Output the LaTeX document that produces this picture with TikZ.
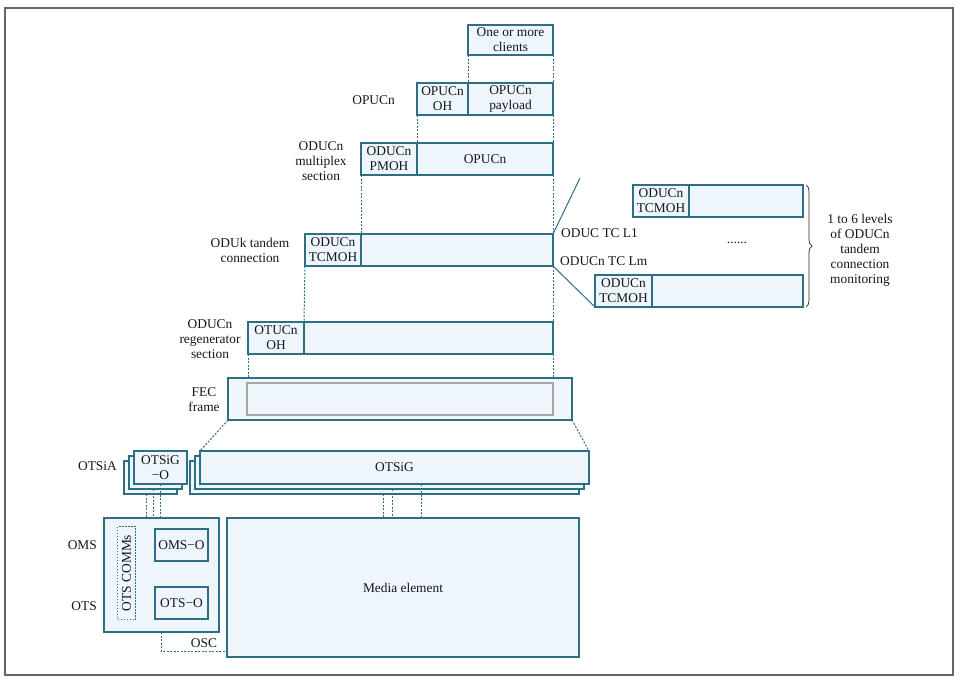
\documentclass[tikz,border=0pt]{standalone}
\usepackage{fontspec}
\setmainfont{Liberation Serif}
\usetikzlibrary{decorations.pathreplacing}
\definecolor{bfill}{HTML}{EEF6FB}
\definecolor{bdraw}{HTML}{2F6F86}
\definecolor{txt}{HTML}{15151F}
\begin{document}
\begin{tikzpicture}[x=1pt,y=-1pt,
  every node/.style={text=txt,font=\fontsize{13.4}{15}\selectfont},
  box/.style={draw=bdraw,fill=bfill,line width=1.2pt,inner sep=0pt,outer sep=0pt,anchor=north west,align=center},
  dotline/.style={draw=bdraw,line width=1pt,dash pattern=on 2pt off 1.5pt},
  link/.style={draw=bdraw,line width=1pt},
  lbl/.style={align=center,inner sep=0pt}]
\useasboundingbox (0,0) rectangle (961,681);
\draw[draw=black!60,line width=1.2pt] (5,8) rectangle (953,675);

% top levels
\node (clients) [box,minimum width=85,minimum height=30] at (468,25) {One or more\\clients};
\node (opoh) [box,minimum width=51,minimum height=32] at (417,83) {OPUCn\\OH};
\node (oppl) [box,minimum width=85,minimum height=32] at (468,83) {OPUCn\\payload};
\node (pmoh) [box,minimum width=56,minimum height=32] at (361,143) {ODUCn\\PMOH};
\node (odopu) [box,minimum width=136,minimum height=32] at (417,143) {OPUCn};
\node (tcm) [box,minimum width=56,minimum height=32] at (305,234) {ODUCn\\TCMOH};
\node (tcmr) [box,minimum width=192,minimum height=32] at (361,234) {};
\node (otuoh) [box,minimum width=56,minimum height=32] at (248,322) {OTUCn\\OH};
\node (otur) [box,minimum width=249,minimum height=32] at (304,322) {};
\node (fec) [box,minimum width=344,minimum height=42] at (228,378) {};
\node (fecin) [box,draw=black!35,minimum width=306,minimum height=32] at (247,383) {};

% right TC levels
\node (tc1) [box,minimum width=56,minimum height=32] at (633,185) {ODUCn\\TCMOH};
\node (tc1r) [box,minimum width=114,minimum height=32] at (689,185) {};
\node (tc2) [box,minimum width=57,minimum height=32] at (595,275) {ODUCn\\TCMOH};
\node (tc2r) [box,minimum width=151,minimum height=32] at (652,275) {};

% OTSiG stacks
\node (otsigoC) [box,minimum width=53,minimum height=33] at (124,461) {};
\node (otsigoB) [box,minimum width=53,minimum height=33] at (129,456) {};
\node (otsigoA) [box,minimum width=53,minimum height=33] at (134,451) {OTSiG\\−O};
\node (otsigC) [box,minimum width=389,minimum height=33] at (190,461) {};
\node (otsigB) [box,minimum width=389,minimum height=33] at (195,456) {};
\node (otsigA) [box,minimum width=389,minimum height=33] at (200,451) {OTSiG};

% bottom
\node (oms) [box,minimum width=115,minimum height=114] at (104,518) {};
\node (comm) [draw=bdraw,line width=1pt,dash pattern=on 1.5pt off 1.5pt,inner sep=0pt,anchor=north west,minimum width=18,minimum height=93] at (117,526) {};
\node[rotate=90,inner sep=0pt] (commtxt) at (comm.center) {OTS COMMs};
\node (omso) [box,minimum width=53,minimum height=32] at (155,529) {OMS−O};
\node (otso) [box,minimum width=53,minimum height=32] at (155,587) {OTS−O};
\node (media) [box,minimum width=352,minimum height=139] at (227,518) {};
\node (medtxt) at (403,588) {Media element};

% labels
\node[lbl,anchor=east] (lopu) at (395,100) {OPUCn};
\node[lbl] (lms) at (321,161) {ODUCn\\multiplex\\section};
\node[lbl] (ltc) at (250,250) {ODUk tandem\\connection};
\node[lbl] (lrs) at (210,339) {ODUCn\\regenerator\\section};
\node[lbl] (lfec) at (204,400) {FEC\\frame};
\node[lbl,anchor=east] (lotsia) at (117,466) {OTSiA};
\node[lbl,anchor=east] (loms) at (97,545) {OMS};
\node[lbl,anchor=east] (lots) at (97,606) {OTS};
\node[lbl] (losc) at (204,643) {OSC};
\node[lbl,anchor=west] (ltcl1) at (561,233) {ODUC TC L1};
\node[lbl,anchor=west] (ltclm) at (560,261) {ODUCn TC Lm};
\node[lbl] (ldots) at (737,243) {......};
\node[lbl] (lbrace) at (860,250) {1 to 6 levels\\of ODUCn\\tandem\\connection\\monitoring};

% dotted connectors between levels
\draw[dotline] (clients.south west) -- (oppl.north west);
\draw[dotline] (clients.south east) -- (oppl.north east);
\draw[dotline] (opoh.south west) -- (odopu.north west);
\draw[dotline] (oppl.south east) -- (odopu.north east);
\draw[dotline] (pmoh.south west) -- (tcmr.north west);
\draw[dotline] (odopu.south east) -- (tcmr.north east);
\draw[dotline] (tcm.south west) -- (otur.north west);
\draw[dotline] (tcmr.south east) -- (otur.north east);
\draw[dotline] (otuoh.south west) -- (otuoh.south west |- fec.north);
\draw[dotline] (otur.south east) -- (otur.south east |- fec.north);
\draw[dotline] (fec.south west) -- (otsigA.north west);
\draw[dotline] (fec.south east) -- (otsigA.north east);

% TC fan-out
\coordinate (fanend) at (580,178);
\draw[link] (tcmr.north east) -- (fanend);
\draw[link] (tcmr.south east) -- (tc2.south west);
\draw[decorate,decoration={brace,amplitude=6pt},line width=0.7pt,black!85] (806,185) -- (806,307);

% OTSiG-O to OMS
\coordinate (g1) at ([xshift=22.6pt]otsigoC.south west);
\coordinate (g2) at ([xshift=24.5pt]otsigoB.south west);
\coordinate (g3) at ([xshift=26.3pt]otsigoA.south west);
\draw[dotline] (g1) -- (g1 |- oms.north);
\draw[dotline] (g2) -- (g2 |- oms.north);
\draw[dotline] (g3) -- (g3 |- oms.north);
% OTSiG to media
\coordinate (h1) at ([xshift=193.7pt]otsigC.south west);
\coordinate (h2) at ([xshift=197.6pt]otsigB.south west);
\coordinate (h3) at ([xshift=221.5pt]otsigA.south west);
\draw[dotline] (h1) -- (h1 |- media.north);
\draw[dotline] (h2) -- (h2 |- media.north);
\draw[dotline] (h3) -- (h3 |- media.north);
% OSC
\coordinate (osc1) at ([xshift=57pt]oms.south west);
\coordinate (osc2) at (227,651);
\draw[dotline] (osc1) |- (osc2);
\end{tikzpicture}
\end{document}
